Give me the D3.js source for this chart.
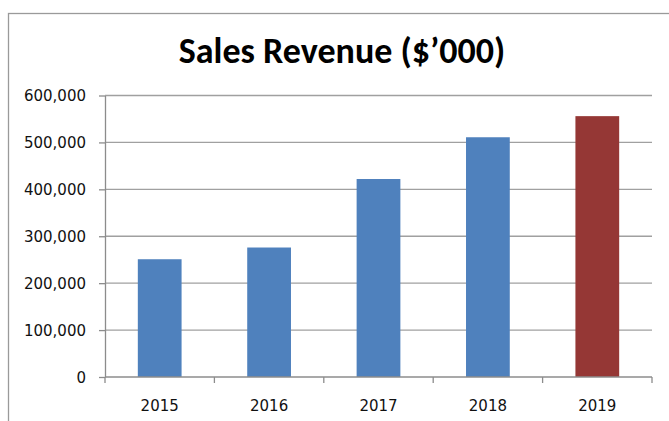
<!DOCTYPE html>
<html>
<head>
<meta charset="utf-8">
<script src="https://cdn.jsdelivr.net/npm/d3@7"></script>
<style>
  body { margin: 0; background: #fff; }
  svg { display: block; }
</style>
</head>
<body>
<div id="chart"></div>
<script>
// data
const years = ["2015", "2016", "2017", "2018", "2019"];
const revenue = [251000, 276000, 422000, 511000, 556000];
const barColors = ["#4f81bd", "#4f81bd", "#4f81bd", "#4f81bd", "#953735"];
const yTicks = [0, 100000, 200000, 300000, 400000, 500000, 600000];
const title = "Sales Revenue ($\u2019000)";

const width = 669;
const height = 421;
const margin = { top: 95.5, right: 17, bottom: 44, left: 105 };

const svg = d3.select("#chart")
    .append("svg")
    .attr("width", width)
    .attr("height", height);

// chart frame, cut off on the right and bottom like the screenshot
svg.append("rect")
    .attr("x", 8.5)
    .attr("y", 13.5)
    .attr("width", 700)
    .attr("height", 500)
    .attr("fill", "none")
    .attr("stroke", "#9a9a9a")
    .attr("stroke-width", 1.3);

svg.append("text")
    .attr("x", 342)
    .attr("y", 63)
    .attr("text-anchor", "middle")
    .attr("font-family", "Carlito, 'Liberation Sans Narrow', Lato, sans-serif")
    .attr("font-weight", "bold")
    .attr("font-size", 36)
    .attr("fill", "#000")
    .text(title);

const x = d3.scaleBand()
    .domain(years)
    .range([margin.left, width - margin.right])
    .paddingInner(0.6)
    .paddingOuter(0.3);

const y = d3.scaleLinear()
    .domain([0, 600000])
    .range([height - margin.bottom, margin.top]);

// gridlines
svg.append("g")
    .selectAll("line")
    .data(yTicks.filter(d => d > 0))
    .enter()
    .append("line")
    .attr("x1", margin.left)
    .attr("x2", width - margin.right)
    .attr("y1", d => y(d))
    .attr("y2", d => y(d))
    .attr("stroke", "#a0a0a0")
    .attr("stroke-width", 1.3);

// bars
svg.append("g")
    .selectAll("rect")
    .data(years)
    .enter()
    .append("rect")
    .attr("x", d => x(d))
    .attr("y", (d, i) => y(revenue[i]))
    .attr("width", x.bandwidth())
    .attr("height", (d, i) => y(0) - y(revenue[i]))
    .attr("fill", (d, i) => barColors[i]);

// y axis
const yAxis = svg.append("g")
    .attr("transform", `translate(${margin.left},0)`)
    .call(d3.axisLeft(y)
        .tickValues(yTicks)
        .tickFormat(d3.format(","))
        .tickSizeInner(6)
        .tickSizeOuter(0)
        .tickPadding(13));

// x axis, ticks on the category boundaries
const xAxisY = y(0);
const bounds = d3.scaleLinear()
    .domain([0, years.length])
    .range([margin.left, width - margin.right]);

const xAxis = svg.append("g");
xAxis.append("line")
    .attr("x1", margin.left)
    .attr("x2", width - margin.right)
    .attr("y1", xAxisY)
    .attr("y2", xAxisY);
xAxis.selectAll(".tick")
    .data(d3.range(years.length + 1))
    .enter()
    .append("line")
    .attr("class", "tick")
    .attr("x1", d => bounds(d))
    .attr("x2", d => bounds(d))
    .attr("y1", xAxisY)
    .attr("y2", xAxisY + 6);
xAxis.selectAll("text")
    .data(years)
    .enter()
    .append("text")
    .attr("x", d => x(d) + x.bandwidth() / 2)
    .attr("y", 411)
    .attr("text-anchor", "middle")
    .text(d => d);

svg.selectAll(".domain").attr("stroke", "#8c8c8c").attr("stroke-width", 1.3);
svg.selectAll(".tick line").attr("stroke", "#8c8c8c").attr("stroke-width", 1.3);
xAxis.selectAll("line").attr("stroke", "#8c8c8c").attr("stroke-width", 1.3);
svg.selectAll(".tick text, g text")
    .attr("font-family", "'DejaVu Sans', sans-serif")
    .attr("font-size", 15)
    .attr("fill", "#111");
yAxis.selectAll("text").attr("dy", "0.36em");
</script>
</body>
</html>
